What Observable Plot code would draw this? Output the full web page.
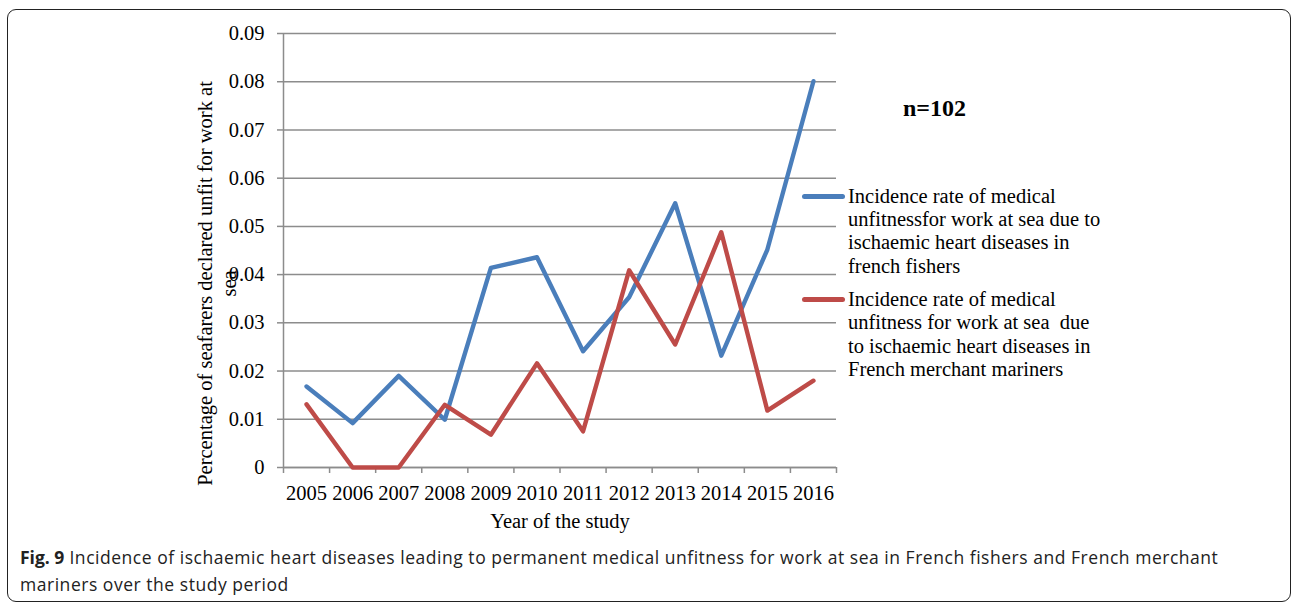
<!DOCTYPE html>
<html><head><meta charset="utf-8">
<script src="https://cdn.jsdelivr.net/npm/d3@7"></script>
<script src="https://cdn.jsdelivr.net/npm/@observablehq/plot@0.6"></script>
<style>
html,body{margin:0;padding:0;background:#fff;}
#wrap{position:relative;width:1292px;height:603px;overflow:hidden;}
#border{position:absolute;left:7px;top:9px;width:1284px;height:593px;box-sizing:border-box;border:1.5px solid #222;border-radius:9px;}
#chart{position:absolute;left:0;top:0;}
.leg{position:absolute;left:802px;font-family:"Liberation Serif";font-size:20.5px;line-height:23.3px;color:#000;}
.leg .sw{position:absolute;left:0;width:43px;height:5px;border-radius:3px;}
.leg .tx{position:absolute;left:46px;white-space:nowrap;}
#caption{position:absolute;left:20px;top:544px;font-family:"Open Sans";font-size:17.5px;letter-spacing:0.53px;line-height:27px;color:#222;white-space:nowrap;}
#caption b{font-weight:700;letter-spacing:0;}
</style>
</head><body>
<div id="wrap">
  <div id="border"></div>
  <div id="chart"></div>
  <div id="legend"></div>
  <div id="caption"></div>
</div>
<script>
// ---- data ----
const years = [2005, 2006, 2007, 2008, 2009, 2010, 2011, 2012, 2013, 2014, 2015, 2016];
const fishers = [0.0168, 0.0092, 0.019, 0.0099, 0.0414, 0.0436, 0.0241, 0.0353, 0.0548, 0.0232, 0.0452, 0.0801];
const merchant = [0.0131, 0, 0, 0.013, 0.0068, 0.0216, 0.0075, 0.0409, 0.0255, 0.0488, 0.0118, 0.018];
const yTicks = [0, 0.01, 0.02, 0.03, 0.04, 0.05, 0.06, 0.07, 0.08, 0.09];
const seriesNames = [
  ["Incidence rate of medical", "unfitnessfor work at sea due to", "ischaemic heart diseases in", "french fishers"],
  ["Incidence rate of medical", "unfitness for work at sea\u00a0 due", "to ischaemic heart diseases in", "French merchant mariners"]
];
const seriesColors = ["#4a7ebb", "#be4b48"];
const yLabel = "Percentage of seafarers declared unfit for work at\nsea";
const xLabel = "Year of the study";
const note = "n=102";
const captionBold = "Fig. 9";
const captionLines = ["Incidence of ischaemic heart diseases leading to permanent medical unfitness for work at sea in French fishers and French merchant", "mariners over the study period"];

// ---- build ----
const rows = [];
years.forEach((yr, i) => {
  rows.push({year: yr, value: fishers[i], series: 0});
  rows.push({year: yr, value: merchant[i], series: 1});
});
const xDomain = [years[0] - 0.5, years[years.length - 1] + 0.5];
const xBounds = [...years.map(y => y - 0.5), years[years.length - 1] + 0.5];
const gray = "#8c8c8c";
const font = "Liberation Serif";

const plot = Plot.plot({
  width: 1292,
  height: 540,
  marginLeft: 283,
  marginRight: 456,
  marginTop: 33,
  marginBottom: 73,
  style: {fontFamily: font, fontSize: "20.5px", color: "#000", background: "transparent", overflow: "visible"},
  x: {type: "linear", domain: xDomain},
  y: {domain: [0, 0.09]},
  marks: [
    Plot.gridY(yTicks, {stroke: gray, strokeOpacity: 1, strokeWidth: 1.5}),
    Plot.ruleX([xDomain[0]], {stroke: gray, strokeWidth: 1.5}),
    Plot.ruleY([0], {stroke: gray, strokeWidth: 1.5}),
    Plot.axisY(yTicks, {tickSize: 6, tickPadding: 13, stroke: gray, strokeWidth: 1.5,
      tickFormat: d => d === 0 ? "0" : d.toFixed(2), label: null, fill: "#000"}),
    Plot.axisX(xBounds, {tickSize: 6, stroke: gray, strokeWidth: 1.5, tickFormat: () => "", label: null}),
    Plot.axisX(years, {tickSize: 0, tickPadding: 18, tickFormat: d => String(d), label: null, fill: "#000"}),
    Plot.line(rows, {x: "year", y: "value", z: "series", stroke: d => seriesColors[d.series],
      strokeWidth: 4.4, strokeLinejoin: "round", strokeLinecap: "round"}),
    Plot.text([xLabel], {frameAnchor: "bottom", lineAnchor: "top", dy: 46, text: d => d, fill: "#000"}),
    Plot.text([yLabel], {frameAnchor: "left", rotate: -90, textAnchor: "middle", lineAnchor: "middle", lineHeight: 1.17,
      dx: -67, dy: 33, text: d => d, fill: "#000"}),
    Plot.text([note], {frameAnchor: "top-right", dx: 98, dy: 75, text: d => d, fontWeight: "bold",
      fontSize: 24, fill: "#000", textAnchor: "middle", lineAnchor: "middle"})
  ]
});
document.getElementById("chart").appendChild(plot);

// legend
const legend = document.getElementById("legend");
const legTops = [184.7, 288];
seriesNames.forEach((lines, i) => {
  const g = document.createElement("div");
  g.className = "leg";
  g.style.top = legTops[i] + "px";
  const sw = document.createElement("div");
  sw.className = "sw";
  sw.style.background = seriesColors[i];
  sw.style.top = (11.65 - 2.5) + "px";
  const tx = document.createElement("div");
  tx.className = "tx";
  tx.innerHTML = lines.join("<br>");
  g.appendChild(sw); g.appendChild(tx);
  legend.appendChild(g);
});

// caption
const cap = document.getElementById("caption");
cap.innerHTML = "<b>" + captionBold + "</b> " + captionLines.join("<br>");
</script>
</body></html>
